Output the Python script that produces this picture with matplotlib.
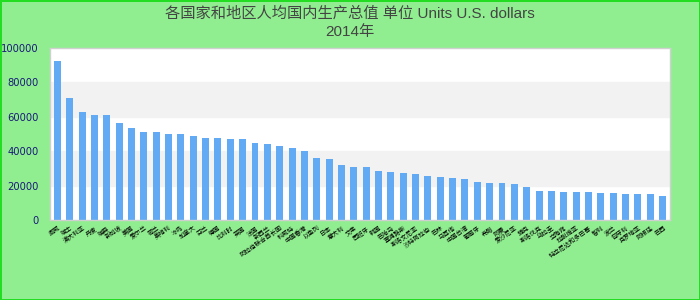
import matplotlib
matplotlib.use('Agg')
import matplotlib.pyplot as plt
import numpy as np

plt.rcParams['font.family'] = ['Noto Sans CJK SC', 'DejaVu Sans']

# 2014 per-capita values
countries = ['挪威', '瑞士', '澳大利亚', '丹麦', '瑞典', '新加坡', '美国', '爱尔兰',
             '荷兰', '奥地利', '冰岛', '加拿大', '芬兰', '德国', '比利时', '英国',
             '法国', '新西兰', '阿拉伯联合酋长国', '科威特', '中国香港', '以色列', '日本',
             '意大利', '文莱', '西班牙', '韩国', '巴哈马', '塞浦路斯', '斯洛文尼亚',
             '沙特阿拉伯', '巴林', '马耳他', '中国台湾', '葡萄牙', '希腊', '阿曼',
             '爱沙尼亚', '捷克', '斯洛伐克', '乌拉圭', '立陶宛', '拉脱维亚',
             '特立尼达和多巴哥', '智利', '波兰', '匈牙利', '克罗地亚', '阿根廷', '巴西']
values = [92400, 70900, 62800, 61000, 61000, 56400, 53500, 51200, 51200, 50000,
          50000, 48800, 47700, 47700, 47100, 47100, 44800, 44200, 43000, 41900,
          40100, 36000, 35500, 32000, 30800, 30800, 28500, 27900, 27300, 26700,
          25600, 25000, 24400, 23800, 22100, 21500, 21500, 20900, 19200, 16900,
          16900, 16300, 16300, 16300, 15700, 15700, 15100, 15100, 15100, 13900]

title = '各国家和地区人均国内生产总值 单位 Units U.S. dollars\n2014年'

fig = plt.figure(figsize=(7, 3), dpi=100)
fig.patch.set_facecolor('#90ee90')
fig.patch.set_edgecolor('#22dd22')
fig.patch.set_linewidth(2)

ax = fig.add_axes([0.0714, 0.2667, 0.8857, 0.5733])
ax.set_facecolor('white')

# alternating bands
for lo in [20000, 60000]:
    ax.axhspan(lo, lo + 20000, color='#f2f2f2', zorder=0)

x = np.arange(len(values))
ax.bar(x, values, width=0.56, color='#62aaf3', zorder=2)

ax.set_xlim(-0.6, len(values) - 0.4)
ax.set_ylim(0, 100000)
ax.set_yticks([0, 20000, 40000, 60000, 80000, 100000])
ax.set_yticklabels(['0', '20000', '40000', '60000', '80000', '100000'],
                   color='#1a1a7a', fontsize=7.2, family='DejaVu Sans')
ax.set_xticks(x)
ax.set_xticklabels(countries, rotation=35, ha='right', rotation_mode='anchor',
                   fontsize=4.5, color='black')
ax.tick_params(axis='both', length=0)
ax.tick_params(axis='y', pad=8)
ax.tick_params(axis='x', pad=3)

for s in ax.spines.values():
    s.set_color('#d0d0d0')
    s.set_linewidth(1)

fig.suptitle(title, y=0.98, fontsize=11, color='#444444', linespacing=1.4,
             family=['Liberation Sans', 'Noto Sans CJK SC'])

fig.savefig('out.png', dpi=100, facecolor=fig.get_facecolor(),
            edgecolor=fig.get_edgecolor())
